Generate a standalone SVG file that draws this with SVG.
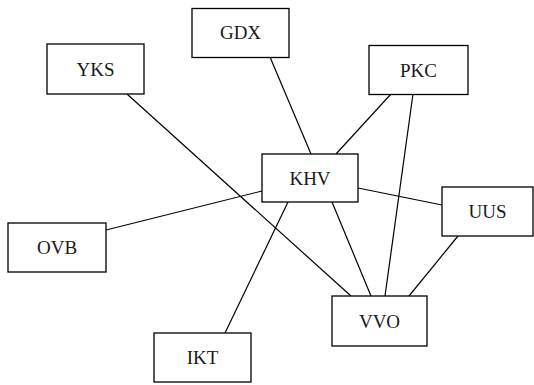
<svg xmlns="http://www.w3.org/2000/svg" width="534" height="385" viewBox="0 0 534 385">
<style>
.n rect{fill:#fff;stroke:#000;stroke-width:1.3}
.n text{font-family:"Liberation Serif","Times New Roman",serif;font-size:19px;text-anchor:middle;fill:#1a1a1a}
#edges line{stroke:#000;stroke-width:1.2}
</style>
<rect width="534" height="385" style="fill:#fff;stroke:none"/>
<g id="edges">
<line x1="270" y1="57" x2="311" y2="154"/>
<line x1="127" y1="94" x2="351" y2="296"/>
<line x1="391" y1="94" x2="336" y2="154"/>
<line x1="413" y1="94" x2="385" y2="296"/>
<line x1="358" y1="188" x2="442" y2="205"/>
<line x1="262" y1="191" x2="106" y2="230"/>
<line x1="288" y1="202" x2="225" y2="333"/>
<line x1="332" y1="202" x2="371" y2="296"/>
<line x1="458" y1="236" x2="409" y2="296"/>
</g>
<g id="GDX" class="n"><rect x="192" y="8.5" width="97" height="49"/><text x="240.5" y="39">GDX</text></g>
<g id="YKS" class="n"><rect x="47" y="44" width="97" height="50"/><text x="95.5" y="75.5">YKS</text></g>
<g id="PKC" class="n"><rect x="369" y="45.5" width="99" height="49"/><text x="418.5" y="77">PKC</text></g>
<g id="KHV" class="n"><rect x="262" y="154" width="96" height="48"/><text x="310" y="185">KHV</text></g>
<g id="UUS" class="n"><rect x="442" y="187" width="91" height="49"/><text x="487.5" y="218">UUS</text></g>
<g id="OVB" class="n"><rect x="8" y="223" width="98" height="49"/><text x="57" y="254">OVB</text></g>
<g id="VVO" class="n"><rect x="332" y="296" width="95" height="50"/><text x="379.5" y="328">VVO</text></g>
<g id="IKT" class="n"><rect x="154" y="333" width="97" height="49"/><text x="202.5" y="364">IKT</text></g>
</svg>
